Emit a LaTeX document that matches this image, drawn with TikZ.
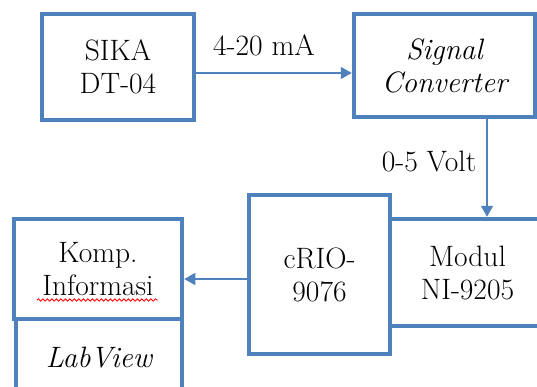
\documentclass[tikz,border=0pt]{standalone}
\usepackage{tikz}
\usetikzlibrary{arrows.meta,positioning,decorations.pathmorphing}
\definecolor{blok}{RGB}{79,129,189}

\begin{document}
\begin{tikzpicture}[x=1pt,y=-1pt,
        kotak/.style={draw=blok, line width=4.5pt, inner sep=0pt, align=center,
            font=\fontsize{29.5}{33}\selectfont},
        panah/.style={draw=blok, line width=1.5pt, -{Triangle[length=11pt,width=12pt]}},
        ket/.style={font=\fontsize{29.5}{33}\selectfont}]
        \useasboundingbox (0,0) rectangle (537,387);
        \node[kotak, minimum width=152pt, minimum height=106pt] at (118,67) (sika){SIKA\\DT-04};
        \node[kotak, minimum width=181pt, minimum height=103pt] at (444.5,65.5) (conv){\itshape Signal\\\itshape Converter};
        \node[kotak, minimum width=155pt, minimum height=107pt] at (467.5,272.5) (modul){Modul\\NI-9205};
        \node[kotak, minimum width=141pt, minimum height=159pt] at (319.5,274.5) (crio){cRIO-\\9076};
        \node[kotak, minimum width=168pt, minimum height=100pt] at (98,269) (komp){Komp.\\Informasi};
        \node[kotak, minimum width=166pt, minimum height=78pt] at (99,358) (lab){\itshape LabView};

        \node[ket] at (264,45) (arus){4-20 mA};
        \node[ket] at (429,162) (volt){0-5 Volt};

        \draw[panah] ([yshift=-6pt]sika.east) -- ([yshift=-6pt]sika.east -| conv.west);
        \draw[panah] ([xshift=42.5pt]conv.south) -- ([xshift=42.5pt]conv.south |- modul.north);
        \draw[panah] ([yshift=-4.5pt]crio.west) -- ([yshift=-4.5pt]crio.west -| komp.east);

        % garis merah ejaan
        \draw[red, line width=0.8pt, decorate, decoration={snake, segment length=4.5pt, amplitude=1.2pt}]
            ([xshift=-61pt,yshift=-31pt]komp.center) -- ([xshift=60pt,yshift=-31pt]komp.center);
\end{tikzpicture}
\end{document}
